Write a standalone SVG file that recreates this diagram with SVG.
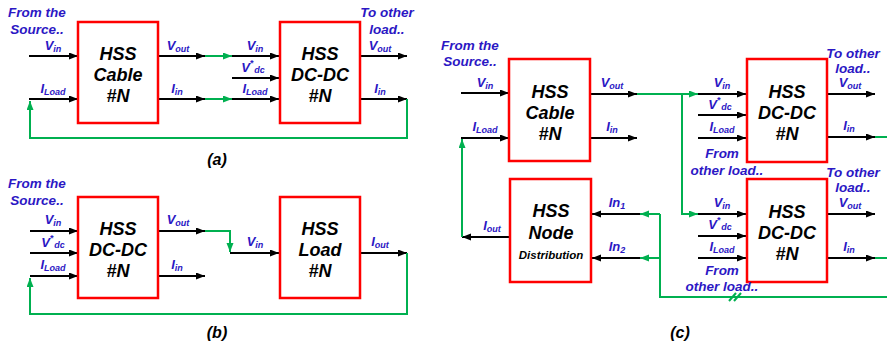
<svg xmlns="http://www.w3.org/2000/svg" width="887" height="348" viewBox="0 0 887 348">
<defs>
<style>
text{font-family:"Liberation Sans",Arial,sans-serif;font-weight:bold;font-style:italic}
.box{fill:#fff;stroke:#ff0000;stroke-width:2.5}
.t{font-size:18px;fill:#000;text-anchor:middle}
.s{font-size:11.5px;fill:#000;text-anchor:middle}
.b{font-size:13.5px;fill:#2b17c4;text-anchor:middle}
.l{font-size:13px;fill:#2b17c4;text-anchor:middle}
.sub{font-size:9px}
.cap{font-size:16px;fill:#000;text-anchor:middle}
.k{stroke:#000;stroke-width:2;fill:none}
.g{stroke:#00b050;stroke-width:2;fill:none}
.ka{marker-end:url(#ak)}
.ga{marker-end:url(#ag)}
</style>
<marker id="ak" markerWidth="10" markerHeight="8" refX="9" refY="3.5" orient="auto" markerUnits="userSpaceOnUse"><path d="M0,0 L9,3.5 L0,7 z" fill="#000"/></marker>
<marker id="ag" markerWidth="10" markerHeight="8" refX="9" refY="3.5" orient="auto" markerUnits="userSpaceOnUse"><path d="M0,0 L9,3.5 L0,7 z" fill="#00b050"/></marker>
</defs>
<rect width="887" height="348" fill="#fff"/>

<g id="connectors">
<!-- (a) -->
<line class="k ka" x1="29" y1="56" x2="78" y2="56"/>
<line class="k ka" x1="29" y1="99" x2="78" y2="99"/>
<line class="k ka" x1="158" y1="56" x2="205" y2="56"/>
<line class="g ga" x1="205" y1="56" x2="232" y2="56"/>
<line class="k ka" x1="232" y1="56" x2="279" y2="56"/>
<line class="k ka" x1="158" y1="99" x2="205" y2="99"/>
<line class="g ga" x1="205" y1="99" x2="232" y2="99"/>
<line class="k ka" x1="232" y1="99" x2="279" y2="99"/>
<line class="k ka" x1="232" y1="78" x2="279" y2="78"/>
<line class="k ka" x1="360" y1="56" x2="407" y2="56"/>
<line class="k ka" x1="360" y1="99" x2="407" y2="99"/>
<polyline class="g ga" points="407,99 407,138 30,138 30,101"/>
<!-- (b) -->
<line class="k ka" x1="30" y1="231" x2="78" y2="231"/>
<line class="k ka" x1="30" y1="253" x2="78" y2="253"/>
<line class="k ka" x1="30" y1="276" x2="78" y2="276"/>
<line class="k ka" x1="158" y1="231" x2="205" y2="231"/>
<polyline class="g ga" points="205,231 230,231 230,252"/>
<line class="k ka" x1="230" y1="253" x2="279" y2="253"/>
<line class="k ka" x1="158" y1="276" x2="205" y2="276"/>
<line class="k ka" x1="360" y1="253" x2="407" y2="253"/>
<polyline class="g ga" points="407,253 407,314 30,314 30,278"/>
<!-- (c) -->
<line class="k ka" x1="461" y1="93" x2="509" y2="93"/>
<line class="k ka" x1="461" y1="138" x2="509" y2="138"/>
<line class="k ka" x1="590" y1="94" x2="637" y2="94"/>
<line class="k ka" x1="590" y1="138" x2="637" y2="138"/>
<line class="g ga" x1="637" y1="94" x2="698" y2="94"/>
<polyline class="g ga" points="682,94 682,214 698,214"/>
<line class="k ka" x1="698" y1="94" x2="746" y2="94"/>
<line class="k ka" x1="698" y1="115" x2="746" y2="115"/>
<line class="k ka" x1="698" y1="138" x2="746" y2="138"/>
<line class="k ka" x1="698" y1="214" x2="746" y2="214"/>
<line class="k ka" x1="698" y1="236" x2="746" y2="236"/>
<line class="k ka" x1="698" y1="258" x2="746" y2="258"/>
<line class="k ka" x1="827" y1="94" x2="875" y2="94"/>
<line class="k ka" x1="827" y1="137" x2="875" y2="137"/>
<line class="g" x1="875" y1="137" x2="887" y2="137"/>
<line class="k ka" x1="827" y1="214" x2="875" y2="214"/>
<line class="k ka" x1="827" y1="258" x2="875" y2="258"/>
<line class="g" x1="875" y1="258" x2="887" y2="258"/>
<line class="k ka" x1="510" y1="237" x2="462" y2="237"/>
<line class="g ga" x1="462" y1="237" x2="462" y2="139"/>
<line class="k ka" x1="640" y1="214" x2="592" y2="214"/>
<line class="k ka" x1="640" y1="258" x2="592" y2="258"/>
<line class="g ga" x1="660" y1="214" x2="640" y2="214"/>
<line class="g ga" x1="660" y1="258" x2="640" y2="258"/>
<polyline class="g" points="660,214 660,297 887,297"/>
<line class="g" x1="729" y1="301" x2="736" y2="293" stroke-width="1.5"/>
<line class="g" x1="734" y1="301" x2="741" y2="293" stroke-width="1.5"/>
</g>

<g id="a-cable">
<rect class="box" x="78" y="22" width="80" height="101"/>
<text class="t" x="118" y="60">HSS</text><text class="t" x="118" y="81">Cable</text><text class="t" x="118" y="102">#N</text>
</g>
<g id="a-dcdc">
<rect class="box" x="280" y="22" width="80" height="101"/>
<text class="t" x="320" y="60">HSS</text><text class="t" x="320" y="81">DC-DC</text><text class="t" x="320" y="102">#N</text>
</g>
<g id="b-dcdc">
<rect class="box" x="78" y="197" width="80" height="101"/>
<text class="t" x="118" y="235">HSS</text><text class="t" x="118" y="256">DC-DC</text><text class="t" x="118" y="277">#N</text>
</g>
<g id="b-load">
<rect class="box" x="280" y="197" width="80" height="101"/>
<text class="t" x="320" y="235">HSS</text><text class="t" x="320" y="256">Load</text><text class="t" x="320" y="277">#N</text>
</g>
<g id="c-cable">
<rect class="box" x="509" y="59" width="81" height="102"/>
<text class="t" x="550" y="98">HSS</text><text class="t" x="550" y="119">Cable</text><text class="t" x="550" y="140">#N</text>
</g>
<g id="c-node">
<rect class="box" x="510" y="179" width="81" height="103"/>
<text class="t" x="551" y="217">HSS</text><text class="t" x="551" y="239">Node</text><text class="s" x="551" y="259">Distribution</text>
</g>
<g id="c-dcdc1">
<rect class="box" x="747" y="59" width="80" height="103"/>
<text class="t" x="787" y="98">HSS</text><text class="t" x="787" y="119">DC-DC</text><text class="t" x="787" y="140">#N</text>
</g>
<g id="c-dcdc2">
<rect class="box" x="747" y="179" width="80" height="103"/>
<text class="t" x="787" y="218">HSS</text><text class="t" x="787" y="239">DC-DC</text><text class="t" x="787" y="260">#N</text>
</g>

<g id="labels">
<!-- (a) -->
<text class="b" x="37" y="17">From the</text><text class="b" x="37" y="34">Source..</text>
<text class="l" x="53" y="50">V<tspan class="sub" dy="2">in</tspan></text>
<text class="l" x="53" y="93">I<tspan class="sub" dy="2">Load</tspan></text>
<text class="l" x="178" y="50">V<tspan class="sub" dy="2">out</tspan></text>
<text class="l" x="177" y="93">I<tspan class="sub" dy="2">in</tspan></text>
<text class="l" x="255" y="50">V<tspan class="sub" dy="2">in</tspan></text>
<text class="l" x="253" y="72">V<tspan class="sub" dy="-6">*</tspan><tspan class="sub" dy="7" dx="1">dc</tspan></text>
<text class="l" x="255" y="93">I<tspan class="sub" dy="2">Load</tspan></text>
<text class="l" x="380" y="50">V<tspan class="sub" dy="2">out</tspan></text>
<text class="l" x="380" y="93">I<tspan class="sub" dy="2">in</tspan></text>
<text class="b" x="387" y="17">To other</text><text class="b" x="387" y="34">load..</text>
<text class="cap" x="217" y="165">(a)</text>
<!-- (b) -->
<text class="b" x="37" y="188">From the</text><text class="b" x="37" y="205">Source..</text>
<text class="l" x="53" y="224">V<tspan class="sub" dy="2">in</tspan></text>
<text class="l" x="53" y="247">V<tspan class="sub" dy="-6">*</tspan><tspan class="sub" dy="7" dx="1">dc</tspan></text>
<text class="l" x="53" y="269">I<tspan class="sub" dy="2">Load</tspan></text>
<text class="l" x="178" y="224">V<tspan class="sub" dy="2">out</tspan></text>
<text class="l" x="177" y="269">I<tspan class="sub" dy="2">in</tspan></text>
<text class="l" x="255" y="246">V<tspan class="sub" dy="2">in</tspan></text>
<text class="l" x="380" y="246">I<tspan class="sub" dy="2">out</tspan></text>
<text class="cap" x="217" y="338">(b)</text>
<!-- (c) -->
<text class="b" x="470" y="50">From the</text><text class="b" x="470" y="66">Source..</text>
<text class="l" x="485" y="87">V<tspan class="sub" dy="2">in</tspan></text>
<text class="l" x="485" y="131">I<tspan class="sub" dy="2">Load</tspan></text>
<text class="l" x="612" y="87">V<tspan class="sub" dy="2">out</tspan></text>
<text class="l" x="612" y="131">I<tspan class="sub" dy="2">in</tspan></text>
<text class="l" x="722" y="87">V<tspan class="sub" dy="2">in</tspan></text>
<text class="l" x="720" y="109">V<tspan class="sub" dy="-6">*</tspan><tspan class="sub" dy="7" dx="1">dc</tspan></text>
<text class="l" x="722" y="131">I<tspan class="sub" dy="2">Load</tspan></text>
<text class="b" x="722" y="158">From</text><text class="b" x="727" y="175">other load..</text>
<text class="l" x="850" y="87">V<tspan class="sub" dy="2">out</tspan></text>
<text class="l" x="849" y="130">I<tspan class="sub" dy="2">in</tspan></text>
<text class="b" x="853" y="58">To other</text><text class="b" x="853" y="73">load..</text>
<text class="l" x="722" y="207">V<tspan class="sub" dy="2">in</tspan></text>
<text class="l" x="720" y="229">V<tspan class="sub" dy="-6">*</tspan><tspan class="sub" dy="7" dx="1">dc</tspan></text>
<text class="l" x="722" y="251">I<tspan class="sub" dy="2">Load</tspan></text>
<text class="b" x="722" y="275">From</text><text class="b" x="722" y="291">other load..</text>
<text class="l" x="850" y="207">V<tspan class="sub" dy="2">out</tspan></text>
<text class="l" x="849" y="251">I<tspan class="sub" dy="2">in</tspan></text>
<text class="b" x="853" y="177">To other</text><text class="b" x="853" y="192">load..</text>
<text class="l" x="492" y="230">I<tspan class="sub" dy="2">out</tspan></text>
<text class="l" x="617" y="207">In<tspan class="sub" dy="2">1</tspan></text>
<text class="l" x="617" y="251">In<tspan class="sub" dy="2">2</tspan></text>
<text class="cap" x="680" y="338">(c)</text>
</g>
</svg>
